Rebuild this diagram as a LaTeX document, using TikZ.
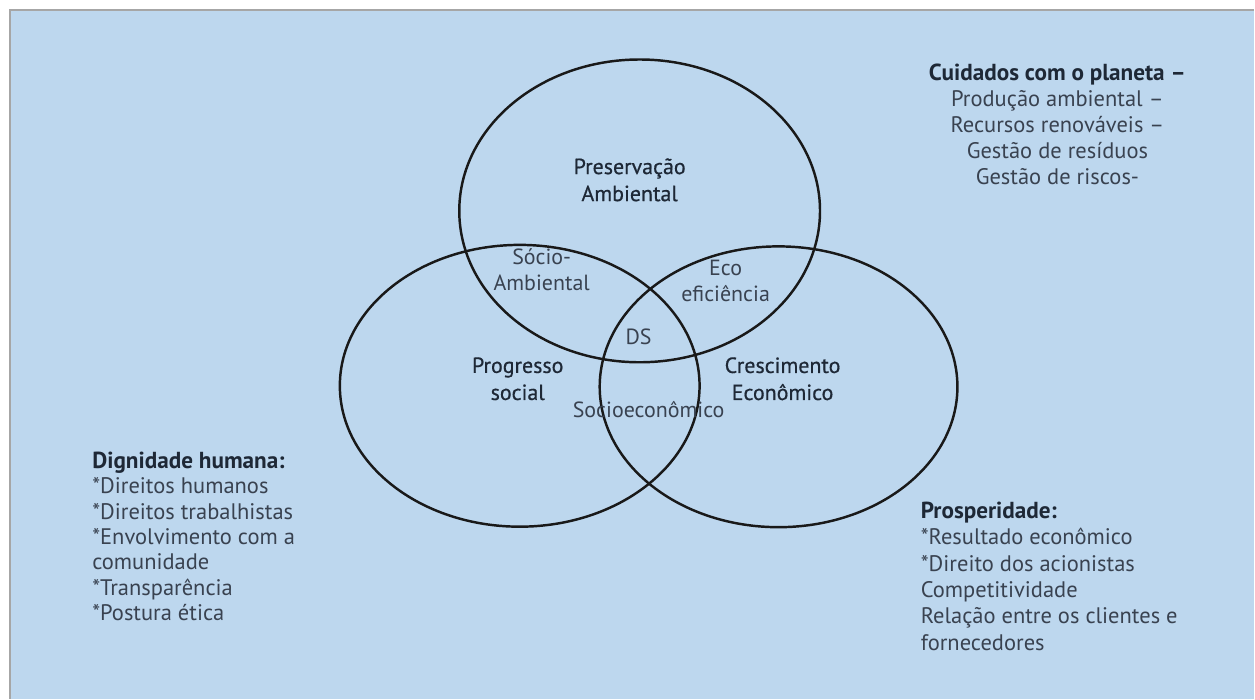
\documentclass[tikz,border=0pt]{standalone}
\usepackage{fontspec}
\setmainfont{PT Sans}
\newfontfamily\medfont[FakeBold=0.6]{PT Sans}
\usetikzlibrary{shapes.geometric}

\definecolor{bgblue}{HTML}{BDD7EE}
\definecolor{txtdark}{HTML}{1E2836}
\definecolor{txtgray}{HTML}{394250}

\tikzset{
  venn/.style={draw=black!90,line width=1.4pt,ellipse,inner sep=0pt},
  circlabel/.style={text=txtdark,font=\medfont\fontsize{12.5}{15.4}\selectfont,align=center,inner sep=0pt},
  sublabel/.style={text=txtgray,font=\fontsize{12.5}{14.6}\selectfont,align=center,inner sep=0pt},
  sidetext/.style={text=txtgray,font=\fontsize{12.8}{14.4}\selectfont,inner sep=0pt}
}
\newcommand{\headtxt}[1]{\textcolor{txtdark}{\fontsize{13.2}{14.4}\selectfont\bfseries #1}}

\begin{document}
\begin{tikzpicture}[x=0.02cm,y=-0.02cm]
  % background panel
  \fill[white] (0,0) rectangle (1255,699);
  \fill[bgblue] (10,10) rectangle (1255,699);
  \draw[black!35,line width=0.8pt] (10,699) -- (10,10) -- (1255,10);
  \useasboundingbox (0,0) rectangle (1255,699);

  % the three circles
  \node[venn,minimum width=7.22cm,minimum height=6.06cm] (amb) at (640,211) {};
  \node[venn,minimum width=7.2cm,minimum height=5.64cm] (soc) at (520,386) {};
  \node[venn,minimum width=7.16cm,minimum height=5.62cm] (eco) at (779,387) {};

  \node[circlabel] (pres) at (630,180) {Preservação\\Ambiental};
  \node[circlabel] (prog) at (518,379) {Progresso\\social};
  \node[circlabel] (cres) at (783,379) {Crescimento\\Econômico};

  \node[sublabel] (socamb) at (542,270) {Sócio-\\Ambiental};
  \node[sublabel] (ecoef) at (726,281) {Eco\\eficiência};
  \node[sublabel] (ds) at (639,337) {DS};
  \node[sublabel] (soceco) at (649,410) {Socioeconômico};

  % side notes
  \node[sidetext,align=center,anchor=north,font=\fontsize{12.8}{14.7}\selectfont] (planeta) at (1058,64)
    {\headtxt{Cuidados com o planeta –}\\Produção ambiental –\\Recursos renováveis –\\Gestão de resíduos\\Gestão de riscos-};
  \node[sidetext,align=left,anchor=north west] (dign) at (92,452)
    {\headtxt{Dignidade humana:}\\*Direitos humanos\\*Direitos trabalhistas\\*Envolvimento com a\\comunidade\\*Transparência\\*Postura ética};
  \node[sidetext,align=left,anchor=north west,font=\fontsize{12.8}{15}\selectfont] (prosp) at (921,502)
    {\headtxt{Prosperidade:}\\*Resultado econômico\\*Direito dos acionistas\\Competitividade\\Relação entre os clientes e\\fornecedores};
\end{tikzpicture}
\end{document}
